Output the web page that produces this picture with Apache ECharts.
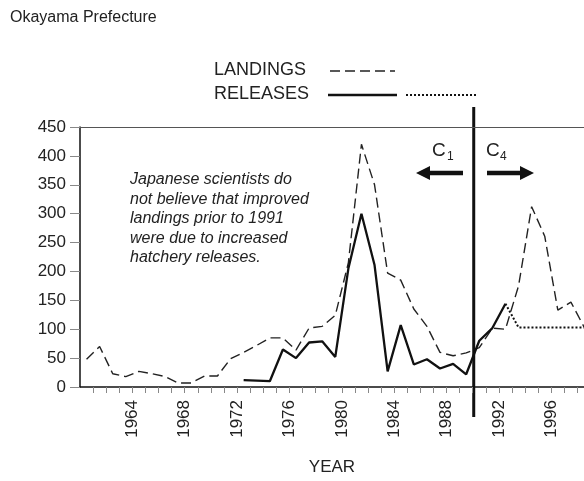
<!DOCTYPE html>
<html>
<head>
<meta charset="utf-8">
<title>Okayama Prefecture</title>
<script src="https://cdn.jsdelivr.net/npm/echarts@6/dist/echarts.min.js"></script>
<style>
    html, body { margin: 0; padding: 0; background: #fff; }
    #chart { width: 584px; height: 481px; }
</style>
</head>
<body>
<div id="chart"></div>
<script>
// data
const years = [1960, 1961, 1962, 1963, 1964, 1965, 1966, 1967, 1968, 1969,
    1970, 1971, 1972, 1973, 1974, 1975, 1976, 1977, 1978, 1979,
    1980, 1981, 1982, 1983, 1984, 1985, 1986, 1987, 1988, 1989,
    1990, 1991, 1992, 1993, 1994, 1995, 1996, 1997, 1998];
const landings = [48, 70, 23, 18, 27, 23, 18, 7, 7, 19,
    19, 49, 60, 72, 85, 85, 64, 102, 105, 124,
    215, 420, 350, 197, 185, 135, 105, 60, 54, 59,
    68, 102, 100, 175, 312, 261, 133, 147, 104];
const releaseYears = [1972, 1973, 1974, 1975, 1976, 1977, 1978, 1979, 1980, 1981,
    1982, 1983, 1984, 1985, 1986, 1987, 1988, 1989, 1990, 1991, 1992];
const releases = [12, 11, 10, 65, 50, 77, 79, 52, 205, 300,
    211, 27, 107, 39, 48, 32, 40, 22, 80, 102, 144];
const plannedYears = [1992, 1993, 1994, 1995, 1996, 1997, 1998];
const plannedReleases = [144, 103, 103, 103, 103, 103, 103];
const yTicks = [0, 50, 100, 150, 200, 250, 300, 350, 400, 450];
const splitYear = 1990;

const FONT = "'Liberation Sans', Arial, sans-serif";

// points sit in the middle of each year band
const toPoints = (xs, ys) => xs.map((y, i) => [y + 0.5, ys[i]]);

const chart = echarts.init(document.getElementById("chart"), null, { renderer: "canvas" });

const option = {
    animation: false,
    textStyle: { fontFamily: FONT },
    grid: { left: 80, right: 0, top: 127, bottom: 85 },
    xAxis: [
        {
            type: "value",
            min: 1960,
            max: 1998.5,
            interval: 1,
            name: "YEAR",
            nameLocation: "middle",
            nameGap: 72,
            nameTextStyle: { fontSize: 17, color: "#222", fontFamily: FONT },
            axisLine: { lineStyle: { color: "#111", width: 1.5 } },
            axisTick: { length: 6, lineStyle: { color: "#888" } },
            axisLabel: {
                rotate: 90,
                margin: 13,
                fontSize: 17,
                color: "#222",
                fontFamily: FONT,
                showMinLabel: false,
                showMaxLabel: false,
                formatter: (v) => (v >= 1964 && v % 4 === 0 ? String(v) : ""),
            },
            splitLine: { show: false },
        },
        {
            // frame line along the top
            type: "value",
            position: "top",
            min: 1960,
            max: 1998.5,
            axisLine: { lineStyle: { color: "#555", width: 1 } },
            axisTick: { show: false },
            axisLabel: { show: false },
            splitLine: { show: false },
        },
    ],
    yAxis: {
        type: "value",
        min: yTicks[0],
        max: yTicks[yTicks.length - 1],
        interval: 50,
        axisLine: { show: true, lineStyle: { color: "#111", width: 1.5 } },
        axisTick: { show: true, length: 10, lineStyle: { color: "#888" } },
        axisLabel: { fontSize: 17, color: "#222", margin: 14, fontFamily: FONT },
        splitLine: { show: false },
    },
    series: [
        {
            name: "LANDINGS",
            type: "line",
            symbol: "none",
            data: toPoints(years, landings),
            lineStyle: { color: "#222", width: 1.4, type: [10, 5] },
        },
        {
            name: "RELEASES",
            type: "line",
            symbol: "none",
            data: toPoints(releaseYears, releases),
            lineStyle: { color: "#111", width: 2.3 },
        },
        {
            name: "RELEASES (planned)",
            type: "line",
            symbol: "none",
            data: toPoints(plannedYears, plannedReleases),
            lineStyle: { color: "#111", width: 2, type: [2, 2] },
        },
    ],
};

chart.setOption(option);

// annotations that sit around the plot
const splitX = chart.convertToPixel({ xAxisIndex: 0 }, splitYear);

function arrow(x1, x2, y) {
    const dir = x2 > x1 ? 1 : -1;
    const baseX = x2 - dir * 14;
    return [
        {
            type: "line",
            shape: { x1: x1, y1: y, x2: baseX, y2: y },
            style: { stroke: "#111", lineWidth: 4.5 },
        },
        {
            type: "polygon",
            shape: { points: [[x2, y], [baseX, y - 7], [baseX, y + 7]] },
            style: { fill: "#111" },
        },
    ];
}

chart.setOption({
    graphic: [
        {
            type: "text",
            left: 10,
            top: 10,
            style: { text: "Okayama Prefecture", fontSize: 16, fill: "#222", fontFamily: FONT },
        },
        // legend
        {
            type: "text",
            x: 214,
            y: 70,
            style: { text: "LANDINGS", fontSize: 18, fill: "#222", fontFamily: FONT, verticalAlign: "middle" },
        },
        {
            type: "line",
            shape: { x1: 330, y1: 71, x2: 395, y2: 71 },
            style: { stroke: "#222", lineWidth: 1.4, lineDash: [10, 5] },
        },
        {
            type: "text",
            x: 214,
            y: 94,
            style: { text: "RELEASES", fontSize: 18, fill: "#222", fontFamily: FONT, verticalAlign: "middle" },
        },
        {
            type: "line",
            shape: { x1: 328, y1: 95, x2: 397, y2: 95 },
            style: { stroke: "#111", lineWidth: 2.3 },
        },
        {
            type: "line",
            shape: { x1: 406, y1: 95, x2: 478, y2: 95 },
            style: { stroke: "#111", lineWidth: 2, lineDash: [2, 2] },
        },
        // note
        {
            type: "text",
            x: 130,
            y: 170,
            style: {
                text: "Japanese scientists do\nnot believe that improved\nlandings prior to 1991\nwere due to increased\nhatchery releases.",
                fontSize: 16,
                fontStyle: "italic",
                lineHeight: 19.5,
                fill: "#222",
                fontFamily: FONT,
            },
        },
        // split line and the two arrows
        {
            type: "line",
            shape: { x1: splitX + 1, y1: 107, x2: splitX + 1, y2: 417 },
            style: { stroke: "#111", lineWidth: 3 },
        },
        {
            type: "text",
            x: 432,
            y: 141,
            style: { text: "C", fontSize: 19, fill: "#222", fontFamily: FONT },
        },
        {
            type: "text",
            x: 447,
            y: 151,
            style: { text: "1", fontSize: 12, fill: "#222", fontFamily: FONT },
        },
        {
            type: "text",
            x: 486,
            y: 141,
            style: { text: "C", fontSize: 19, fill: "#222", fontFamily: FONT },
        },
        {
            type: "text",
            x: 500,
            y: 151,
            style: { text: "4", fontSize: 12, fill: "#222", fontFamily: FONT },
        },
        ...arrow(463, 416, 173),
        ...arrow(487, 534, 173),
    ],
});

window.addEventListener("resize", () => chart.resize());
</script>
</body>
</html>
